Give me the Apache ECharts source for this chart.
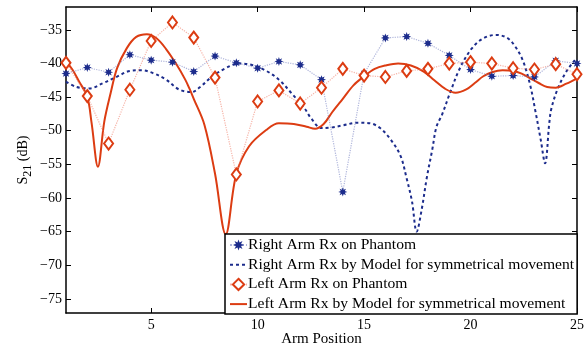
<!DOCTYPE html>
<html>
<head>
<meta charset="utf-8">
<script src="https://cdn.jsdelivr.net/npm/echarts@6/dist/echarts.min.js"></script>
<style>
  html, body { margin: 0; padding: 0; background: #fff; }
  #chart { width: 587px; height: 347px; }
</style>
</head>
<body>
<div id="chart"></div>
<script>
// measured positions
const positions = [1, 2, 3, 4, 5, 6, 7, 8, 9, 10, 11, 12, 13, 14, 15, 16, 17, 18, 19, 20, 21, 22, 23, 24, 25];
const rightPhantom = [-41.5, -40.6, -41.3, -38.7, -39.5, -39.8, -41.2, -38.9, -39.9, -40.7, -39.7, -40.2, -42.4,
  -59.1, -41.5, -36.2, -36.0, -37.0, -38.8, -40.9, -41.9, -41.8, -42.0, -39.6, -40.0];
const leftPhantom = [-39.9, -44.85, -51.9, -43.9, -36.65, -33.9, -36.15, -42.1, -56.5, -45.65, -44.0, -45.95, -43.6,
  -40.8, -41.8, -42.0, -41.1, -40.8, -40.0, -39.8, -40.0, -40.7, -40.9, -40.1, -41.6];

// model curves
const rightModelX = [1.0, 1.5, 2.1, 2.75, 3.4, 4.0, 4.55, 5.1, 5.7, 6.3, 6.9, 7.3, 7.85, 8.5, 9.1, 9.7, 10.35, 11.0,
  11.6, 12.2, 12.5, 13.0, 13.5, 14.0, 14.7, 15.3, 15.75, 16.2, 16.7, 17.0, 17.25, 17.47, 17.7, 17.95, 18.2, 18.4,
  18.65, 19.05, 19.5, 20.05, 20.6, 21.2, 21.7, 22.05, 22.45, 22.8, 23.05, 23.3, 23.5, 23.7, 23.8, 24.1, 24.5, 24.9, 25.0];
const rightModelY = [-42.7, -43.5, -43.7, -42.9, -41.95, -41.1, -41.0, -41.45, -42.4, -43.85, -44.25, -43.5, -41.95,
  -40.7, -40.0, -40.2, -41.0, -42.4, -44.45, -46.65, -48.1, -49.6, -49.5, -49.2, -48.8, -48.9, -49.6, -51.1, -53.65,
  -57.1, -60.5, -65.0, -61.8, -56.9, -52.85, -49.4, -47.7, -44.25, -40.7, -37.8, -36.25, -35.75, -36.15, -37.25,
  -39.5, -43.2, -47.15, -51.4, -54.85, -48.8, -46.65, -43.7, -41.2, -39.5, -39.2];
const leftModelX = [1.0, 1.3, 1.6, 2.0, 2.2, 2.5, 2.8, 3.1, 3.4, 3.85, 4.3, 4.8, 5.25, 5.7, 6.2, 6.6, 6.8, 7.0, 7.5,
  8.0, 8.5, 9.0, 9.6, 10.4, 11.0, 11.7, 12.3, 12.7, 13.1, 13.5, 14.0, 14.5, 15.0, 15.5, 16.0, 16.6, 17.2, 17.8,
  18.3, 18.8, 19.3, 19.8, 20.2, 20.6, 21.0, 21.5, 22.0, 22.4, 22.8, 23.2, 23.6, 24.0, 24.5, 25.0];
const leftModelY = [-39.7, -40.9, -42.6, -44.95, -48.8, -55.35, -48.6, -44.35, -40.7, -37.75, -36.05, -35.65, -36.25,
  -37.85, -40.2, -42.4, -43.75, -45.25, -49.1, -56.4, -65.4, -56.4, -52.3, -49.9, -48.9, -49.0, -49.4, -49.7, -49.0,
  -47.25, -45.25, -43.25, -41.9, -40.8, -40.3, -40.0, -40.3, -41.2, -42.5, -43.75, -44.35, -43.85, -42.9, -41.9,
  -41.3, -41.0, -41.1, -41.5, -42.2, -42.9, -43.5, -43.6, -43.0, -42.2];

const xTicks = [5, 10, 15, 20, 25];
const yTicks = [-75, -70, -65, -60, -55, -50, -45, -40, -35];

const navy = '#1c2c8c';
const red = '#dc3c12';
const font = 'Liberation Serif';

// 8-point asterisk-like marker
let star = 'path://';
for (let i = 0; i < 16; i++) {
  const a = i * Math.PI / 8;
  const r = i % 2 ? 0.5 : 1;
  star += (i ? 'L' : 'M') + (Math.cos(a) * r).toFixed(3) + ',' + (Math.sin(a) * r).toFixed(3);
}
star += 'Z';

const pairs = (xs, ys) => xs.map((x, i) => [x, ys[i]]);
const minus = v => String(v).replace('-', '\u2212');

const chart = echarts.init(document.getElementById('chart'));
chart.setOption({
  animation: false,
  grid: { left: 66, right: 10, top: 7, bottom: 34, outerBoundsMode: 'none', containLabel: false },
  xAxis: [{
    type: 'value', min: 1, max: 25,
    name: 'Arm Position', nameLocation: 'middle', nameGap: 19, nameMoveOverlap: false,
    nameTextStyle: { fontFamily: font, fontSize: 15, color: '#000' },
    axisLine: { lineStyle: { color: '#000', width: 1.5 } },
    axisTick: { inside: true, length: 5, customValues: xTicks, lineStyle: { color: '#000' } },
    axisLabel: { customValues: xTicks, fontFamily: font, fontSize: 14, color: '#000', margin: 5 },
    splitLine: { show: false }
  }, {
    type: 'value', min: 1, max: 25, position: 'top',
    axisLine: { lineStyle: { color: '#000', width: 1.5 } },
    axisTick: { inside: true, length: 5, customValues: xTicks, lineStyle: { color: '#000' } },
    axisLabel: { show: false }, splitLine: { show: false }
  }],
  yAxis: [{
    type: 'value', min: -77.1, max: -31.6,
    name: '{a|S}{b|21}{a| (dB)}', nameLocation: 'middle', nameGap: 32, nameRotate: 90, nameMoveOverlap: false,
    nameTextStyle: {
      color: '#000',
      rich: {
        a: { fontFamily: font, fontSize: 14, color: '#000', lineHeight: 22 },
        b: { fontFamily: font, fontSize: 12, color: '#000', lineHeight: 22, padding: [9, 0, 0, 0] }
      }
    },
    axisLine: { show: true, lineStyle: { color: '#000', width: 1.5 } },
    axisTick: { show: true, inside: true, length: 5, customValues: yTicks, lineStyle: { color: '#000' } },
    axisLabel: { customValues: yTicks, formatter: minus, fontFamily: font, fontSize: 14, color: '#000', margin: 4 },
    splitLine: { show: false }
  }, {
    type: 'value', min: -77.1, max: -31.6, position: 'right',
    axisLine: { show: true, lineStyle: { color: '#000', width: 1.5 } },
    axisTick: { show: true, inside: true, length: 5, customValues: yTicks, lineStyle: { color: '#000' } },
    axisLabel: { show: false }, splitLine: { show: false }
  }],
  legend: {
    orient: 'vertical',
    left: 225, top: 234,
    padding: [3, 3, 2, 4],
    itemGap: 3.7,
    itemWidth: 17, itemHeight: 14,
    backgroundColor: '#fff',
    borderColor: '#000', borderWidth: 1.5, borderRadius: 0,
    textStyle: { fontFamily: font, fontSize: 15.6, color: '#000', padding: [0, 0, 0, -4] },
    data: [
      { name: 'Right Arm Rx on Phantom' },
      { name: 'Right Arm Rx by Model for symmetrical movement', itemStyle: { opacity: 0 } },
      { name: 'Left Arm Rx on Phantom' },
      { name: 'Left Arm Rx by Model for symmetrical movement', itemStyle: { opacity: 0 } }
    ]
  },
  series: [
    {
      name: 'Right Arm Rx on Phantom', type: 'line',
      data: pairs(positions, rightPhantom),
      symbol: star, symbolSize: 9,
      itemStyle: { color: navy },
      lineStyle: { type: 'dotted', width: 1.2, color: 'rgba(110,120,190,0.55)' },
      z: 4
    },
    {
      name: 'Right Arm Rx by Model for symmetrical movement', type: 'line',
      data: pairs(rightModelX, rightModelY),
      smooth: 0.35, showSymbol: false, symbol: 'none',
      itemStyle: { color: navy },
      lineStyle: { type: [3, 3], width: 2, color: navy },
      z: 2
    },
    {
      name: 'Left Arm Rx on Phantom', type: 'line',
      data: pairs(positions, leftPhantom),
      symbol: 'diamond', symbolSize: [9, 12],
      itemStyle: { color: '#fff', borderColor: red, borderWidth: 2 },
      lineStyle: { type: 'dotted', width: 1.2, color: 'rgba(240,130,110,0.6)' },
      z: 5
    },
    {
      name: 'Left Arm Rx by Model for symmetrical movement', type: 'line',
      data: pairs(leftModelX, leftModelY),
      smooth: 0.35, showSymbol: false, symbol: 'none',
      itemStyle: { color: red },
      lineStyle: { width: 2, color: red },
      z: 3
    }
  ]
});
</script>
</body>
</html>
